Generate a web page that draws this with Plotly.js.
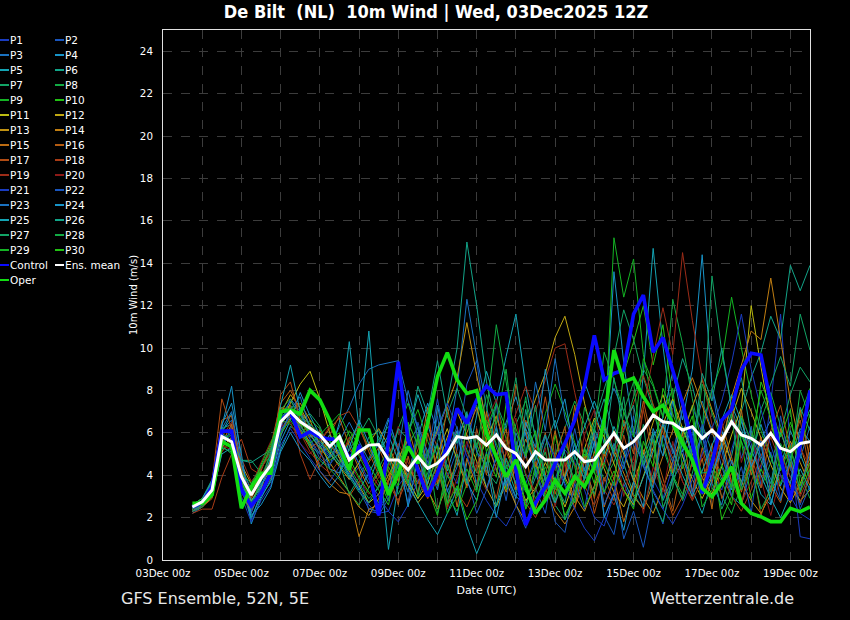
<!DOCTYPE html>
<html><head><meta charset="utf-8">
<script src="https://cdn.plot.ly/plotly-3.0.1.min.js"></script>
<style>html,body{margin:0;padding:0;background:#000;}#chart{width:850px;height:620px;}</style>
</head><body><div id="chart"></div>
<script>
// ---- data (m/s), 6-hourly from 03Dec 18z to 19Dec 12z ----
const firstStepUTC = '2025-12-03 18:00';
const stepHours = 6;
const nSteps = 64;
const xTickLabelsFormat = '%d%b %Hz';

const P1 = [2.4,2.6,3.2,5.5,5.9,3.4,2.6,3.6,4.2,6.2, 7.3,6.1,6.0,5.5,4.9,5.2,3.8,4.4,2.3,2.2, 2.3,3.5,4.1,3.2,5.0,6.3,4.4,3.6,5.3,7.6, 6.1,4.2,3.4,5.1,6.0,4.3,2.9,3.8,5.2,4.6, 3.3,2.0,1.6,3.1,4.9,6.2,5.1,3.8,2.9,4.4, 5.9,7.2,6.0,4.1,3.3,5.2,6.8,5.5,4.2,7.4, 11.6,5.2,1.1,1.0];
const P2 = [2.3,2.5,3.0,5.2,6.3,3.8,2.2,3.4,4.6,6.8, 7.5,6.9,5.7,4.8,4.4,5.9,4.1,3.3,2.4,2.3, 3.1,4.6,2.7,5.9,4.4,6.8,3.9,5.2,8.3,9.4, 6.0,7.3,4.1,2.6,1.5,3.4,2.2,4.9,3.8,6.2, 4.0,5.9,2.1,1.2,3.6,2.5,4.9,3.7,6.6,5.0, 7.2,4.4,6.0,8.1,5.3,7.0,4.8,6.3,3.5,5.1, 2.9,4.6,2.6,4.1];
const P3 = [2.2,2.5,3.1,6.1,6.6,3.5,1.9,3.2,4.1,6.4, 7.6,7.0,6.4,5.1,5.3,6.3,7.2,8.3,9.0,9.2, 9.3,9.4,7.5,6.2,4.6,3.3,5.5,8.1,12.3,9.6, 7.2,5.3,4.1,3.0,2.6,4.2,5.8,4.9,3.6,2.7, 3.9,5.5,6.8,8.1,7.0,5.4,4.7,3.2,2.4,3.8, 4.6,5.9,7.5,6.1,4.4,3.0,2.6,4.3,5.7,6.6, 5.1,3.9,4.8,6.3];
const P4 = [2.4,2.7,3.6,6.3,8.2,4.6,1.7,2.9,3.8,5.6, 6.6,7.9,6.8,5.9,4.3,4.1,5.6,4.5,3.6,4.9, 6.6,5.3,3.9,5.8,7.4,6.1,4.2,5.7,6.9,5.2, 3.4,4.8,6.5,7.7,5.9,4.1,2.8,3.5,5.3,6.9, 8.4,7.1,5.5,13.6,9.3,6.0,4.4,5.8,6.7,8.9, 6.6,9.0,14.4,8.2,6.1,4.6,3.7,5.1,6.4,4.9, 3.5,4.7,6.2,5.6];
const P5 = [2.5,2.8,3.5,6.0,6.9,4.0,2.0,3.0,3.7,5.2, 6.3,6.0,5.6,4.4,4.9,6.5,10.3,6.2,10.8,5.1, 0.5,3.6,5.9,7.8,6.4,4.8,3.3,2.1,4.6,6.8, 8.9,7.4,9.6,11.6,8.2,5.7,4.0,2.7,3.9,5.5, 4.3,3.1,4.6,6.3,5.2,3.7,8.8,14.7,10.1,6.4, 4.9,3.3,2.2,3.8,5.6,7.3,6.2,4.5,3.1,2.6, 4.4,6.1,5.0,3.8];
const P6 = [2.6,2.9,3.8,6.2,6.4,4.4,2.7,3.7,4.6,6.7, 7.1,6.2,5.4,5.0,5.6,4.8,3.9,4.6,5.8,6.1, 4.9,4.0,5.4,6.3,5.1,6.2,7.4,10.0,15.0,12.0, 8.4,6.3,4.5,3.2,2.7,3.9,5.4,6.6,5.0,3.6, 4.8,6.2,7.6,6.0,4.6,3.1,2.4,4.0,5.8,7.7, 9.5,8.2,6.4,5.1,3.8,4.9,7.0,8.6,9.8,11.5, 10.4,13.9,12.7,13.9];
const P7 = [2.3,2.6,3.4,5.6,5.3,4.7,4.7,4.1,4.4,6.0, 6.8,6.6,6.9,6.3,5.2,4.6,3.1,3.9,4.8,5.7, 6.3,5.1,3.7,2.9,4.1,5.6,6.9,8.1,6.7,5.4, 4.2,3.6,5.1,6.4,7.5,5.9,3.8,2.6,1.9,3.3, 4.7,6.5,8.0,9.6,11.8,10.4,8.6,7.1,5.3,3.9, 2.8,4.1,5.9,13.4,9.8,7.2,5.6,4.3,3.4,4.6, 6.0,7.8,9.1,8.4];
const P8 = [2.4,2.7,3.3,5.4,5.0,3.6,2.9,4.3,5.2,6.9, 7.2,6.3,5.8,6.0,5.6,5.3,4.4,3.6,2.9,3.4, 4.5,6.2,7.4,5.8,4.3,3.5,4.8,6.0,5.2,4.1, 6.9,11.1,8.4,5.6,4.0,2.9,3.7,5.0,6.3,7.5, 6.4,4.9,3.8,4.6,6.1,7.7,9.0,8.2,6.7,12.3, 10.2,7.6,5.4,4.2,3.0,2.2,3.5,4.8,6.6,7.9, 6.3,5.2,4.0,2.9];
const P9 = [2.5,2.8,3.7,5.9,5.5,3.3,2.4,3.9,5.0,6.6, 6.4,5.8,6.6,6.2,5.0,4.5,5.7,6.4,5.3,4.2, 3.4,4.6,6.0,7.1,5.6,4.4,3.0,2.3,3.6,5.0, 6.2,7.4,5.7,4.3,3.2,4.8,6.9,8.3,7.0,5.6, 4.1,3.0,5.4,15.2,12.4,14.2,9.7,7.2,5.5,4.0, 3.1,4.7,6.3,8.0,9.3,12.4,10.0,7.8,6.1,4.8, 3.6,5.2,6.8,8.1];
const P10 = [2.6,2.9,3.5,5.7,6.0,4.2,3.4,4.4,4.9,7.0, 7.3,6.7,5.9,5.3,4.7,5.0,6.1,5.4,4.5,3.7, 2.8,4.6,3.2,5.9,3.4,2.1,4.5,3.0,6.6,7.3, 5.1,6.2,3.3,4.7,2.4,4.5,3.2,5.9,3.8,2.7, 5.0,3.6,6.4,4.9,8.8,10.3,12.0,9.2,11.1,7.5, 5.9,7.3,3.4,5.0,1.9,3.0,5.6,2.9,4.3,3.2, 4.8,6.5,5.1,6.9];
const P11 = [2.3,2.5,3.0,5.3,5.8,3.7,2.8,3.5,4.3,6.3, 7.4,8.3,8.9,7.6,6.0,4.8,4.2,3.5,2.7,3.1, 4.0,4.9,3.8,2.9,3.6,5.0,6.2,4.7,3.5,4.4, 5.7,6.8,5.3,4.0,2.8,3.4,4.6,3.7,2.5,3.8, 5.2,6.7,5.8,4.5,3.3,2.6,3.9,5.3,6.4,7.6, 6.2,5.0,3.9,3.1,4.4,5.9,7.2,12.0,9.1,6.5, 4.7,3.5,2.8,3.3];
const P12 = [2.4,2.6,3.2,5.6,5.4,3.9,3.3,4.0,4.7,6.9, 7.8,7.2,6.3,5.7,5.1,4.4,3.8,4.6,5.5,6.2, 5.4,4.3,3.5,2.7,3.3,4.5,5.8,7.0,5.9,4.6, 3.4,2.5,3.6,4.9,6.3,7.6,8.8,10.5,11.5,9.7, 7.4,5.6,4.3,3.2,2.5,3.7,5.0,6.5,7.8,6.3, 4.9,3.8,2.9,3.9,5.3,6.8,8.1,7.0,5.7,4.5, 3.4,2.7,3.6,4.8];
const P13 = [2.5,2.7,3.4,6.0,6.1,4.5,3.6,3.8,4.2,6.1, 6.9,7.4,6.6,5.4,4.6,3.9,3.2,2.5,2.1,2.9, 3.8,5.1,4.4,3.6,4.9,6.1,7.3,8.6,11.2,8.7, 6.5,4.8,3.7,2.6,1.8,2.4,3.6,4.7,3.9,3.0, 2.3,3.5,4.9,6.1,5.0,3.8,2.9,2.2,3.4,4.7, 6.0,7.3,8.5,7.1,5.8,4.6,3.7,2.8,2.2,3.1, 4.3,5.6,4.6,3.5];
const P14 = [2.3,2.6,3.3,5.5,6.4,4.1,2.5,3.1,3.9,5.9, 6.7,6.4,5.5,4.2,3.6,3.2,3.1,1.1,2.4,2.6, 3.7,4.8,5.7,4.5,3.3,2.4,3.5,4.6,6.0,7.2, 5.6,4.3,3.2,4.4,5.7,4.6,3.4,2.3,1.7,2.5, 3.8,5.1,6.3,5.2,4.1,3.0,2.4,3.6,4.9,6.1, 7.4,8.6,7.3,6.0,5.2,7.7,9.2,10.8,10.4,13.3, 10.4,7.5,5.4,3.9];
const P15 = [2.4,2.5,2.9,5.1,5.7,3.2,2.3,3.3,4.8,7.2, 7.0,6.1,5.3,5.6,6.2,6.7,5.4,4.3,3.4,4.1, 5.0,3.7,6.3,4.6,7.2,3.6,5.1,2.5,4.8,3.4, 7.0,4.9,6.2,3.3,5.1,2.4,4.0,6.1,3.9,7.3, 4.6,6.0,2.5,3.9,1.8,3.3,5.2,3.6,6.4,4.1, 6.0,3.2,4.8,2.4,5.9,3.6,7.1,4.0,5.8,3.3, 6.2,4.4,7.1,4.7];
const P16 = [2.5,2.8,3.6,6.6,6.8,4.3,3.0,4.2,5.4,7.4, 8.0,7.1,6.0,5.2,4.0,3.5,3.0,3.7,4.6,5.3, 4.2,2.6,4.9,3.1,6.0,4.4,7.2,5.0,3.4,5.9, 4.0,6.8,5.2,8.3,6.1,4.4,6.0,3.1,4.6,2.4, 4.7,2.9,5.1,3.8,6.6,5.0,7.5,5.4,3.9,2.3, 4.6,2.9,5.3,3.6,6.5,4.9,3.2,4.8,2.1,3.5, 2.7,4.6,3.1,5.5];
const P17 = [2.3,2.6,3.7,7.6,6.2,4.1,2.9,3.8,4.6,7.8, 8.4,6.6,5.8,6.1,5.4,4.9,5.6,6.3,5.1,4.0, 3.2,5.0,3.9,5.6,2.9,4.3,2.5,4.9,3.6,6.2, 4.4,2.9,5.1,4.0,6.6,5.1,7.7,4.8,6.3,3.0, 4.9,2.2,3.9,2.8,5.9,4.2,7.1,4.8,3.5,2.1, 3.0,4.6,3.3,5.5,2.9,4.1,2.6,4.9,3.4,6.1, 7.3,5.2,6.6,4.1];
const P18 = [2.2,2.4,2.4,3.9,5.0,5.7,4.3,4.0,4.7,6.4, 7.3,5.0,3.8,4.8,5.9,6.8,7.0,6.2,5.3,4.5, 3.6,2.8,3.9,5.2,6.5,5.3,4.1,3.2,2.5,3.6, 4.8,5.9,4.7,3.6,2.7,2.0,3.1,4.4,5.6,4.5, 3.5,2.6,3.7,5.0,6.2,7.4,8.7,7.3,6.0,4.8, 3.7,2.8,3.8,5.1,4.0,3.0,2.3,3.3,4.5,5.8, 4.6,3.5,2.7,3.9];
const P19 = [2.4,2.7,3.1,5.8,6.5,4.8,3.7,4.3,5.1,7.1, 6.9,6.0,5.1,4.5,4.1,4.7,5.8,5.0,4.2,3.5, 4.4,5.5,4.6,3.7,2.9,3.8,5.0,6.1,5.1,4.2, 3.3,4.5,5.7,6.9,8.2,7.0,8.5,10.0,10.2,7.9, 5.8,4.4,3.3,2.6,3.6,4.8,7.1,9.6,11.9,9.7, 14.5,11.3,8.6,6.4,4.8,3.6,2.7,3.7,4.9,6.0, 5.0,3.9,3.0,4.1];
const P20 = [2.3,2.5,3.3,5.4,5.2,3.9,3.5,4.6,5.6,6.3, 6.5,5.5,5.0,5.6,6.3,5.5,4.6,3.8,3.1,3.9, 4.8,6.3,4.2,5.6,3.1,4.7,2.4,3.9,5.6,4.3, 6.5,7.6,5.0,6.7,4.1,3.2,5.3,2.5,4.6,3.6, 5.9,7.1,4.4,6.0,3.0,4.9,2.2,4.4,3.2,5.6, 3.7,2.9,5.0,3.8,6.2,7.3,4.6,6.1,3.8,2.1, 4.0,3.1,5.3,4.4];
const P21 = [2.5,2.8,3.4,5.9,5.6,3.0,1.8,2.8,3.5,5.4, 6.2,5.5,4.8,4.2,3.7,4.4,5.2,4.6,3.8,3.0, 2.3,1.8,2.6,3.7,4.9,6.0,7.4,6.2,4.9,3.7, 2.8,2.1,1.6,2.5,3.6,4.8,5.9,4.7,3.5,2.4, 1.5,0.9,2.0,3.2,4.5,5.7,4.5,3.3,2.4,1.7, 2.6,3.8,5.0,6.2,7.5,9.3,11.6,9.0,7.1,5.4, 4.0,3.0,2.2,1.9];
const P22 = [2.4,2.6,3.2,5.7,6.0,3.6,2.3,3.5,4.4,6.1, 6.8,6.3,5.7,5.0,4.5,5.1,4.3,3.4,2.6,2.1, 2.9,4.5,3.2,6.5,4.9,7.6,5.0,6.3,3.9,2.2, 3.3,4.9,2.8,5.6,3.4,2.5,4.0,1.8,1.3,3.6, 2.4,4.9,2.6,3.7,1.0,2.3,0.6,2.9,1.7,4.0, 5.2,3.1,6.4,4.1,5.2,3.0,4.4,2.2,5.6,3.2, 6.8,4.4,2.4,3.5];
const P23 = [2.3,2.6,3.5,6.2,7.0,4.5,3.2,3.6,4.0,5.8, 7.1,7.7,6.2,5.4,4.8,5.6,6.5,5.6,4.7,5.5, 6.7,5.1,8.0,6.2,4.3,5.5,3.2,4.4,6.9,5.1, 4.5,6.3,3.5,6.0,4.8,8.4,6.1,9.5,6.7,5.4, 4.2,6.1,3.1,5.5,4.3,6.8,4.4,3.4,5.9,4.6, 7.1,4.7,5.9,3.6,2.6,4.7,3.5,6.1,4.9,3.8, 2.8,4.9,3.3,5.1];
const P24 = [2.6,2.9,3.7,6.4,7.4,5.0,2.1,2.6,3.4,5.1, 6.0,5.2,4.7,4.0,3.4,4.0,5.3,6.6,5.5,4.3, 3.3,5.1,2.5,4.8,3.6,7.3,4.9,6.1,3.7,2.8, 4.6,2.0,4.1,2.9,6.5,5.3,9.0,6.2,7.6,4.9, 3.8,5.6,2.0,3.1,1.4,3.7,2.5,6.2,4.9,7.5, 5.1,6.3,3.1,4.0,5.5,3.3,6.7,4.4,5.5,2.6, 4.5,3.6,6.0,7.1];
const P25 = [2.5,2.7,3.0,5.0,5.3,4.0,2.8,3.4,4.9,7.3, 9.2,7.0,5.9,5.3,5.9,5.0,4.0,3.3,4.1,5.0, 5.9,4.7,3.6,2.7,1.9,1.2,2.2,3.4,1.6,0.3, 1.4,2.6,3.8,5.0,6.2,5.0,3.8,2.7,3.9,5.1, 6.3,7.5,6.2,5.0,3.8,2.7,3.9,5.1,6.4,5.2, 4.0,3.0,4.2,5.4,6.6,7.8,6.5,5.2,4.0,2.9, 2.0,3.1,4.3,3.3];
const P26 = [2.4,2.7,3.4,6.0,5.6,4.7,4.6,4.9,5.2,6.5, 6.9,6.6,6.0,5.6,5.0,4.5,3.9,3.2,2.7,3.5, 4.6,6.2,5.7,8.2,6.9,9.4,6.8,5.5,7.0,3.3, 5.1,2.5,4.8,3.6,7.1,4.7,5.9,3.6,2.7,4.9, 3.8,6.2,5.0,8.6,6.3,7.3,4.8,6.0,2.8,3.9, 6.3,5.1,8.8,7.5,10.0,7.2,8.6,5.9,4.7,3.6, 6.0,4.8,7.2,6.1];
const P27 = [2.3,2.5,3.1,5.3,5.1,3.4,2.5,3.7,5.1,6.8, 7.0,6.8,6.4,6.0,5.3,4.6,5.2,5.9,6.7,5.8, 4.9,3.1,4.1,5.7,3.3,4.6,2.7,5.0,3.6,5.9, 4.4,7.4,6.2,8.6,5.0,7.3,3.7,4.8,1.9,2.9, 5.3,4.1,6.5,5.1,7.7,3.9,6.4,2.8,1.8,3.9, 2.9,5.3,4.1,4.2,2.4,3.5,5.9,4.7,7.1,8.3, 9.6,8.2,11.6,9.9];
const P28 = [2.5,2.8,3.6,5.8,5.2,4.1,3.6,4.4,5.3,7.1, 7.6,6.5,5.3,4.7,4.3,3.8,3.2,2.6,3.4,4.3, 5.3,4.0,6.4,3.0,5.2,2.2,4.0,3.1,6.5,5.3, 7.8,6.4,9.0,5.1,7.7,3.9,5.1,2.8,4.9,3.8, 7.2,6.0,9.8,8.5,7.0,8.4,4.5,5.7,2.5,3.4, 5.8,4.6,8.3,7.0,5.6,6.9,3.3,4.4,2.4,3.3, 5.5,4.4,8.0,6.7];
const P29 = [2.4,2.6,3.3,5.7,5.9,3.8,2.6,3.3,4.0,6.0, 6.6,5.9,5.5,5.9,6.4,6.9,5.9,4.9,4.0,3.3, 2.6,4.7,3.6,5.8,3.8,4.7,2.2,3.0,4.3,3.2, 6.6,5.5,4.3,5.4,2.4,3.3,4.4,3.3,5.5,4.4, 2.5,3.4,4.6,3.5,7.0,5.8,9.5,8.3,6.8,8.1, 4.3,5.5,2.5,3.3,4.5,3.4,6.8,5.6,8.0,6.7, 4.2,5.4,3.2,4.3];
const P30 = [2.6,2.9,3.4,5.5,5.4,3.5,3.2,4.5,5.5,6.7, 7.1,6.4,6.1,5.8,5.7,6.0,4.8,3.9,3.2,2.7, 4.4,3.5,6.5,5.4,4.4,5.4,2.6,3.5,1.9,2.8, 5.0,3.9,7.4,6.2,4.9,6.1,2.9,3.8,2.1,3.0, 5.2,4.1,3.2,4.2,3.3,2.4,5.6,4.4,8.1,6.9, 5.6,6.8,3.4,4.4,3.7,2.6,6.0,4.8,8.4,7.2, 5.8,7.1,3.5,4.6];

const control = [2.5,2.7,3.45,6.08,6.08,3.3,2.55,3.15,4.1,6.6, 7.0,5.8,6.05,5.8,5.7,5.7,4.8,5.35,4.25,2.1, 5.6,9.35,5.66,4.25,3.0,4.1,5.35,7.15,6.45,7.55, 8.2,7.8,7.85,4.25,1.65,2.7,3.45,4.55,5.5,6.6, 8.2,10.6,8.5,8.8,8.96,11.6,12.5,9.8,10.5,8.96, 7.4,5.5,3.15,4.55,6.6,7.1,8.96,9.75,9.67,7.4, 4.87,2.83,5.5,8.0];
const oper = [2.67,2.67,3.07,5.58,5.35,2.44,3.46,4.09,4.09,7.0, 7.07,6.9,8.0,7.55,6.6,5.35,4.25,6.13,6.13,4.5, 3.07,4.09,5.35,4.56,6.45,8.65,9.78,8.5,7.86,7.99, 5.98,4.87,3.93,4.72,3.46,2.2,2.83,3.77,3.15,3.93, 3.46,4.4,6.6,9.9,8.4,8.58,7.7,7.0,7.3,6.45, 5.5,4.72,3.38,2.99,3.62,4.4,2.67,2.2,2.04,1.81, 1.81,2.44,2.28,2.5];
const ensMean = [2.5,2.75,3.3,5.82,5.58,3.93,3.07,3.85,4.48,6.52, 7.0,6.52,6.21,5.9,5.35,5.82,4.72,5.11,5.42,5.45, 4.72,4.72,4.25,4.87,4.32,4.56,5.03,5.82,5.74,5.82, 5.42,5.9,5.27,5.03,4.4,5.11,4.72,4.72,4.72,5.11, 4.64,4.72,5.35,5.98,5.27,5.58,6.13,6.84,6.52,6.45, 6.13,6.29,5.74,6.13,5.66,6.52,5.9,5.74,5.42,5.98, 5.27,5.11,5.5,5.58];

const members = [P1,P2,P3,P4,P5,P6,P7,P8,P9,P10,P11,P12,P13,P14,P15,P16,P17,P18,P19,P20,P21,P22,P23,P24,P25,P26,P27,P28,P29,P30];
const memberNames = members.map((_, i) => 'P' + (i + 1));
const paletteTen = ['#1a3cc0','#1a56bc','#1a72c0','#1894c8','#14a4b4','#12a488','#12a466','#12aa44','#14b424','#22c014'];
const paletteBrown = ['#bcbc12','#c0a812','#c09212','#c07e12','#bc6c12','#b45c12','#b04c14','#a83c16','#9c2c18','#8c1a18'];
const memberColors = paletteTen.concat(paletteBrown, paletteTen);
const controlColor = '#0a0aff', operColor = '#12dd12', meanColor = '#ffffff';

// time axis
function buildTimes(){
  const t0 = Date.parse(firstStepUTC.replace(' ', 'T') + ':00Z');
  const out = [];
  for (let i = 0; i < nSteps; i++) {
    out.push(new Date(t0 + i * stepHours * 3600e3).toISOString().slice(0, 16).replace('T', ' '));
  }
  return out;
}
const times = buildTimes();

const traces = [];
members.forEach((vals, i) => traces.push({
  x: times, y: vals, type: 'scatter', mode: 'lines', name: memberNames[i],
  line: {color: memberColors[i], width: 1}, showlegend: false, hoverinfo: 'x+y+name'
}));
traces.push({x: times, y: control, type: 'scatter', mode: 'lines', name: 'Control', line: {color: controlColor, width: 3.6}, showlegend: false});
traces.push({x: times, y: oper, type: 'scatter', mode: 'lines', name: 'Oper', line: {color: operColor, width: 3.6}, showlegend: false});
traces.push({x: times, y: ensMean, type: 'scatter', mode: 'lines', name: 'Ens. mean', line: {color: meanColor, width: 3}, showlegend: false});

// manual two-column legend (left of the plot)
const W = 850, H = 620, ML = 163, MR = 40, MT = 30, MB = 60;
const pw = W - ML - MR, ph = H - MT - MB;
const px2x = px => (px - ML) / pw;
const py2y = py => (H - MB - py) / ph;
const legendCol1 = [], legendCol2 = [];
memberNames.forEach((n, i) => (i % 2 === 0 ? legendCol1 : legendCol2).push({name: n, color: memberColors[i]}));
legendCol1.push({name: 'Control', color: controlColor});
legendCol1.push({name: 'Oper', color: operColor});
legendCol2.push({name: 'Ens. mean', color: meanColor});

const shapes = [], annotations = [];
[[legendCol1, 0], [legendCol2, 55]].forEach(([col, x0]) => {
  col.forEach((item, r) => {
    const py = 40 + 15 * r;
    shapes.push({type: 'line', xref: 'paper', yref: 'paper', x0: px2x(x0), x1: px2x(x0 + 9), y0: py2y(py), y1: py2y(py),
      line: {color: item.color, width: 2}});
    annotations.push({xref: 'paper', yref: 'paper', x: px2x(x0 + 8), y: py2y(py), xanchor: 'left', yanchor: 'middle',
      text: item.name, showarrow: false, font: {family: 'DejaVu Sans', size: 10.5, color: '#ffffff'}});
  });
});
annotations.push({xref: 'paper', yref: 'paper', x: px2x(119), y: py2y(598), xanchor: 'left', yanchor: 'middle',
  text: 'GFS Ensemble, 52N, 5E', showarrow: false, font: {family: 'DejaVu Sans', size: 16, color: '#e8e8e8'}});
annotations.push({xref: 'paper', yref: 'paper', x: px2x(796), y: py2y(598), xanchor: 'right', yanchor: 'middle',
  text: 'Wetterzentrale.de', showarrow: false, font: {family: 'DejaVu Sans', size: 16, color: '#e8e8e8'}});

const gridCol = '#3c3c3c';
const layout = {
  width: W, height: H,
  margin: {l: ML, r: MR, t: MT, b: MB, pad: 0},
  paper_bgcolor: '#000000', plot_bgcolor: '#000000',
  font: {family: 'DejaVu Sans', size: 10, color: '#ffffff'},
  showlegend: false,
  title: {text: 'De Bilt \u00a0(NL) \u00a010m Wind | Wed, 03Dec2025 12Z', x: 436 / W, xanchor: 'center', xref: 'container',
    y: 1 - 12 / H, yanchor: 'middle', yref: 'container',
    font: {family: 'DejaVu Sans Condensed, DejaVu Sans', size: 18, weight: 'bold', color: '#ffffff'}},
  xaxis: {
    type: 'date', range: ['2025-12-03 00:00', '2025-12-19 12:00'],
    tick0: '2025-12-03 00:00', dtick: 2 * 86400000, tickformat: xTickLabelsFormat,
    showgrid: true, gridcolor: gridCol, griddash: 'dash', gridwidth: 1,
    minor: {dtick: 86400000, tick0: '2025-12-03 00:00', showgrid: true, gridcolor: gridCol, griddash: 'dash', gridwidth: 1},
    showline: true, linecolor: '#e0e0e0', linewidth: 1, mirror: true,
    ticks: '', ticklabelstandoff: 4, zeroline: false,
    tickfont: {family: 'DejaVu Sans', size: 10.3, color: '#ffffff'},
    title: {text: 'Date (UTC)', standoff: 7, font: {family: 'DejaVu Sans', size: 11, color: '#ffffff'}},
    automargin: false
  },
  yaxis: {
    range: [0, 25], tick0: 0, dtick: 2,
    showgrid: true, gridcolor: gridCol, griddash: 'dash', gridwidth: 1,
    showline: true, linecolor: '#e0e0e0', linewidth: 1, mirror: true,
    ticks: '', ticklabelstandoff: 7, zeroline: false,
    tickfont: {family: 'DejaVu Sans', size: 10.3, color: '#ffffff'},
    title: {text: '10m Wind (m/s)', standoff: 0, font: {family: 'DejaVu Sans', size: 10, color: '#ffffff'}},
    automargin: false
  },
  shapes: shapes, annotations: annotations
};

Plotly.newPlot('chart', traces, layout, {displayModeBar: false, staticPlot: true});
</script>
</body></html>
